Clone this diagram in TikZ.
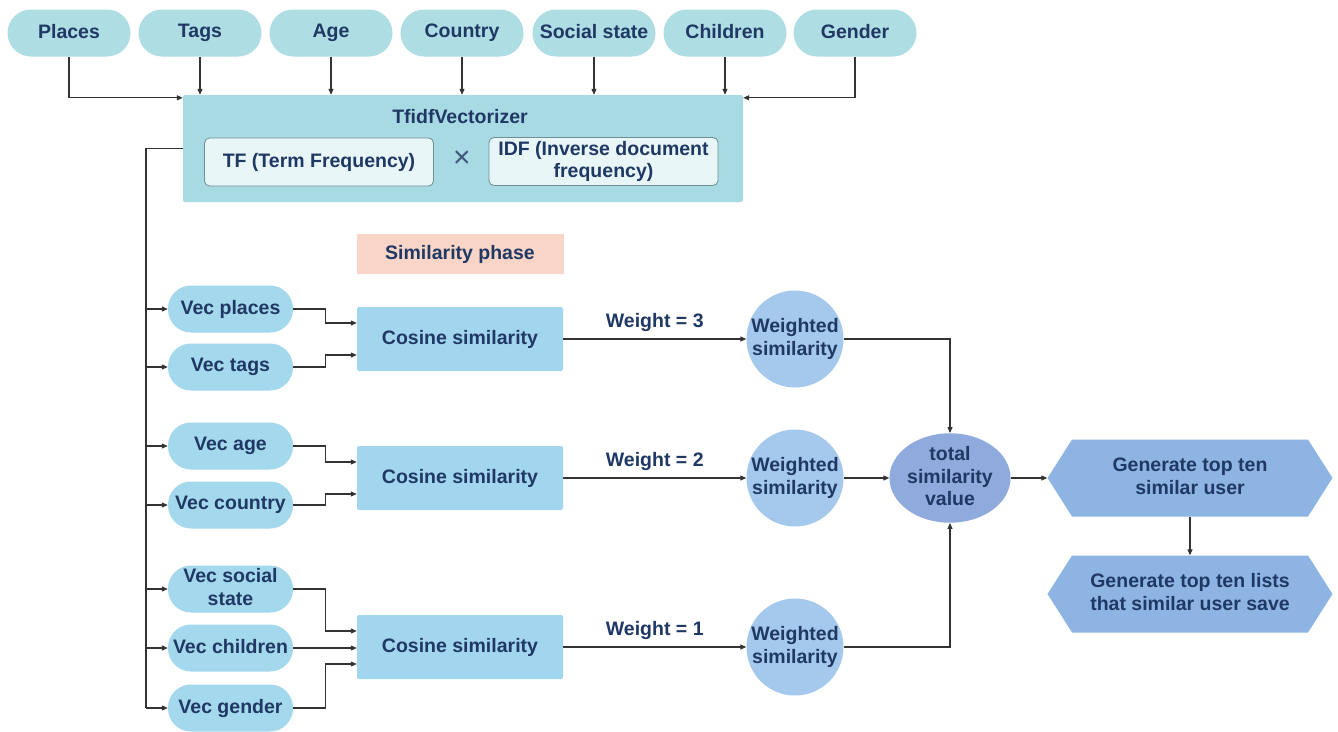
\documentclass[tikz,border=0pt]{standalone}
\usepackage{fontspec}
\setmainfont{Liberation Sans}
\usetikzlibrary{shapes.geometric,shapes.symbols,arrows.meta,calc}
\definecolor{ink}{HTML}{1F3864}
\definecolor{wire}{HTML}{333333}
\definecolor{pillC}{HTML}{AEDDE4}
\definecolor{tfC}{HTML}{A8DAE4}
\definecolor{innerC}{HTML}{E8F6F8}
\definecolor{innerLine}{HTML}{6F8F95}
\definecolor{vecC}{HTML}{A4D8EC}
\definecolor{cosC}{HTML}{A2D5EE}
\definecolor{phaseC}{HTML}{F9D5C7}
\definecolor{circC}{HTML}{A5C9EC}
\definecolor{totC}{HTML}{8FAADC}
\definecolor{hexC}{HTML}{8EB4E3}
\begin{document}
\begin{tikzpicture}[x=1pt,y=-1pt,
  font=\fontsize{19.5}{22.5}\selectfont\bfseries, text=ink,
  every node/.append style={execute at begin node={\vphantom{Ag}}},
  arr/.style={-{Triangle[length=6pt,width=5pt]}, line width=1.1pt, draw=wire},
  wireline/.style={line width=1.1pt, draw=wire},
  attr/.style={draw=none, fill=pillC, rounded corners=23.5pt, minimum width=123pt, minimum height=47pt, inner sep=0pt},
  vecpill/.style={draw=none, fill=vecC, rounded corners=23pt, minimum width=125pt, minimum height=47pt, inner sep=0pt, align=center},
  tfbox/.style={draw=none, fill=tfC, rounded corners=2pt, minimum width=560pt, minimum height=107pt},
  innerbox/.style={draw=innerLine, line width=0.8pt, fill=innerC, rounded corners=5pt, minimum width=229pt, minimum height=48pt, inner sep=0pt, align=center},
  cosbox/.style={draw=none, fill=cosC, rounded corners=2pt, minimum width=206pt, minimum height=64pt},
  phasebox/.style={draw=none, fill=phaseC, minimum width=207pt, minimum height=40pt},
  wcirc/.style={circle, draw=none, fill=circC, minimum size=97pt, inner sep=0pt, align=center},
  totnode/.style={ellipse, draw=none, fill=totC, minimum width=120pt, minimum height=67pt, inner sep=0pt, align=center},
  hexnode/.style={signal, signal to=west and east, signal pointer angle=115, draw=none, fill=hexC, minimum width=285pt, minimum height=77pt, inner sep=0pt, align=center}
]
\useasboundingbox[fill=white] (0,0) rectangle (1338,731);

% attribute inputs
\node[attr] (places)   at (69,33)  {Places};
\node[attr] (tags)     at (200,33) {Tags};
\node[attr] (age)      at (331,33) {Age};
\node[attr] (country)  at (462,33) {Country};
\node[attr] (social)   at (594,33) {Social state};
\node[attr] (children) at (725,33) {Children};
\node[attr] (gender)   at (855,33) {Gender};

% vectorizer
\node[tfbox] (tfidf) at (463,148.5) {};
\node (tftitle) at (460,118) {TfidfVectorizer};
\node[innerbox] (tf)  at (319,162) {TF (Term Frequency)};
\node[innerbox] (idf) at (603.5,161.5) {IDF (Inverse document\\frequency)};
\node[text=ink!85] (times) at (462,161) {\fontsize{30}{30}\selectfont\mdseries ×};

% inputs into the vectorizer
\draw[arr] (places.south) |- ($(tfidf.north west)+(0,3)$);
\foreach \n in {tags,age,country,social,children}
  \draw[arr] (\n.south) -- (\n.south |- tfidf.north);
\draw[arr] (gender.south) |- ($(tfidf.north east)+(0,3)$);

% similarity phase
\node[phasebox] (phase) at (460,254) {Similarity phase};

% feature vectors
\node[vecpill] (vplaces)   at (230.5,309) {Vec places};
\node[vecpill] (vtags)     at (230.5,367) {Vec tags};
\node[vecpill] (vage)      at (230.5,446) {Vec age};
\node[vecpill] (vcountry)  at (230.5,505) {Vec country};
\node[vecpill] (vsocial)   at (230.5,589) {Vec social\\state};
\node[vecpill] (vchildren) at (230.5,648) {Vec children};
\node[vecpill] (vgender)   at (230.5,708) {Vec gender};

% trunk from the vectorizer to each vector
\coordinate (trunk) at (146,148.5);
\draw[wireline] (tfidf.west) -- (trunk) -- (trunk |- vgender.west);
\foreach \v in {vplaces,vtags,vage,vcountry,vsocial,vchildren,vgender}
  \draw[arr] (trunk |- \v.west) -- (\v.west);

% cosine similarity blocks
\node[cosbox] (cs1) at (460,339) {Cosine similarity};
\node[cosbox] (cs2) at (460,478) {Cosine similarity};
\node[cosbox] (cs3) at (460,647) {Cosine similarity};

\draw[arr] (vplaces.east)  -- ++(32,0) |- ($(cs1.west)+(0,-16)$);
\draw[arr] (vtags.east)    -- ++(32,0) |- ($(cs1.west)+(0,16)$);
\draw[arr] (vage.east)     -- ++(32,0) |- ($(cs2.west)+(0,-16)$);
\draw[arr] (vcountry.east) -- ++(32,0) |- ($(cs2.west)+(0,16)$);
\draw[arr] (vsocial.east)  -- ++(32,0) |- ($(cs3.west)+(0,-16)$);
\draw[arr] (vchildren.east) -- (vchildren.east -| cs3.west);
\draw[arr] (vgender.east)  -- ++(32,0) |- ($(cs3.west)+(0,17)$);

% weighting
\node[wcirc] (w1) at (795,339) {Weighted\\similarity};
\node[wcirc] (w2) at (795,478) {Weighted\\similarity};
\node[wcirc] (w3) at (795,647) {Weighted\\similarity};

\draw[arr] (cs1.east) -- (w1.west) node[midway, above=3pt] (lw3) {Weight = 3};
\draw[arr] (cs2.east) -- (w2.west) node[midway, above=3pt] (lw2) {Weight = 2};
\draw[arr] (cs3.east) -- (w3.west) node[midway, above=3pt] (lw1) {Weight = 1};

% total and results
\node[totnode] (total) at (950,478) {total\\similarity\\value};
\draw[arr] (w1.east) -| (total.north);
\draw[arr] (w2.east) -- (total.west);
\draw[arr] (w3.east) -| (total.south);

\node[hexnode] (top)   at (1190,478) {Generate top ten\\similar user};
\node[hexnode] (lists) at (1190,594) {Generate top ten lists\\that similar user save};
\draw[arr] (total.east) -- (top.west);
\draw[arr] (top.south) -- (lists.north);
\end{tikzpicture}
\end{document}
